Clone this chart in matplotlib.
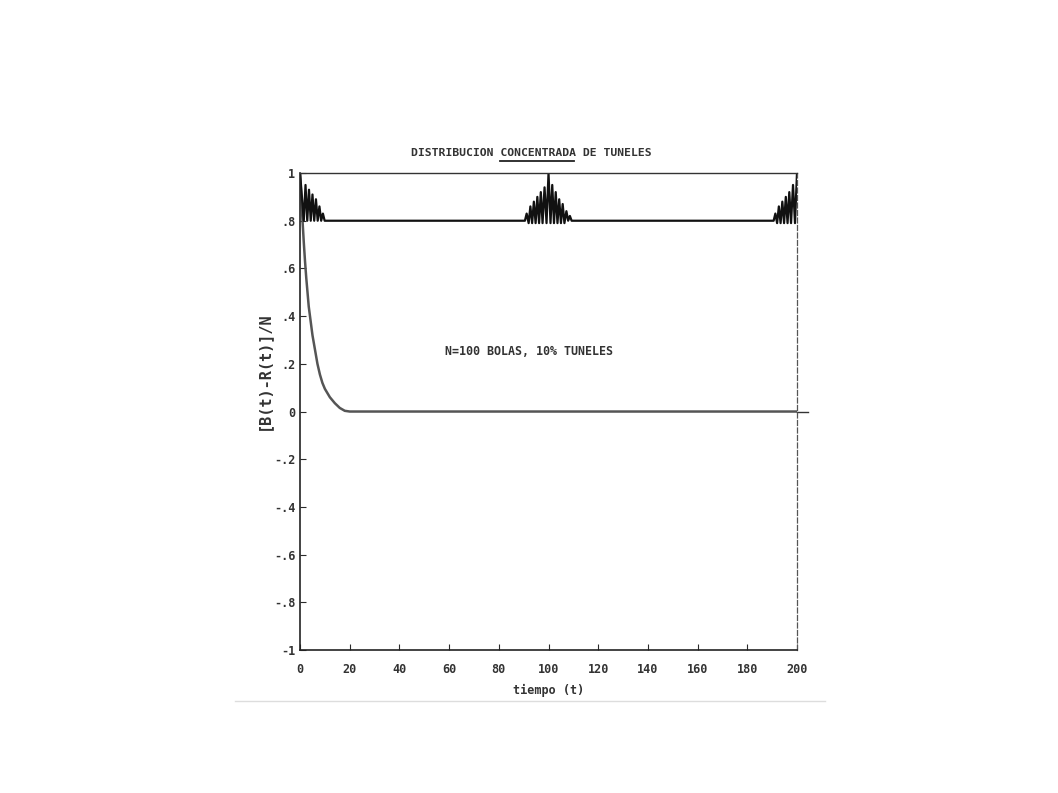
import matplotlib
matplotlib.use("Agg")
import matplotlib.pyplot as plt
from matplotlib.lines import Line2D

# oscillating series (black): time and value
osc_t = [0, 1.5, 2.2, 2.9, 3.6, 4.3, 5.0, 5.7, 6.4, 7.1, 7.8, 8.5, 9.2, 9.9,
         90.5, 91.2, 92.0, 92.7, 93.4, 94.1, 94.8, 95.5, 96.2, 96.9, 97.6, 98.4,
         99.2, 100.0, 100.8, 101.5, 102.2, 102.9, 103.6, 104.3, 105.0, 105.7,
         106.4, 107.2, 107.9, 108.6, 109.3,
         190.6, 191.3, 192.0, 192.7, 193.4, 194.1, 194.8, 195.5, 196.2, 196.9,
         197.6, 198.4, 199.2, 200.0]
osc_v = [1.0, 0.8, 0.95, 0.8, 0.93, 0.8, 0.91, 0.8, 0.89, 0.8, 0.86, 0.8, 0.83, 0.8,
         0.8, 0.83, 0.79, 0.86, 0.79, 0.88, 0.79, 0.9, 0.79, 0.92, 0.79, 0.94,
         0.79, 1.0, 0.79, 0.95, 0.79, 0.92, 0.79, 0.89, 0.79, 0.87,
         0.79, 0.84, 0.8, 0.82, 0.8,
         0.8, 0.83, 0.79, 0.86, 0.79, 0.88, 0.79, 0.9, 0.79, 0.92,
         0.79, 0.95, 0.79, 1.0]

# decaying series (gray)
dec_t = [0, 0.5, 1, 1.5, 2, 2.5, 3, 3.5, 4, 5, 6, 7, 8, 9, 10, 12, 14, 16, 18, 20, 200]
dec_v = [1.0, 0.9, 0.8, 0.71, 0.63, 0.56, 0.5, 0.44, 0.4, 0.32, 0.26, 0.2,
         0.155, 0.12, 0.095, 0.06, 0.035, 0.015, 0.003, 0.0, 0.0]

x_ticks = [0, 20, 40, 60, 80, 100, 120, 140, 160, 180, 200]
y_ticks = [1, 0.8, 0.6, 0.4, 0.2, 0, -0.2, -0.4, -0.6, -0.8, -1]
y_labels = ["1", ".8", ".6", ".4", ".2", "0", "-.2", "-.4", "-.6", "-.8", "-1"]

mono = "DejaVu Sans Mono"
ink = "#2a2a2a"

fig = plt.figure(figsize=(10.58, 7.93), dpi=100)
ax = fig.add_axes([0.2836, 0.1803, 0.4697, 0.6015])

ax.plot(dec_t, dec_v, color="#555555", lw=1.8, solid_joinstyle="round")
ax.plot(osc_t, osc_v, color="#111111", lw=1.6)
# zero line of the plotter runs a little past the frame
ax.axhline(0, xmin=1.0, xmax=1.022, color="#333333", lw=1.0, clip_on=False)

ax.set_xlim(0, 200)
ax.set_ylim(-1, 1)
ax.set_xticks(x_ticks)
ax.set_yticks(y_ticks)
ax.set_yticklabels(y_labels)
ax.tick_params(direction="in", length=4, width=0.8, colors=ink, labelsize=8.5)
ax.tick_params(axis="x", pad=9)
for lab in ax.get_xticklabels() + ax.get_yticklabels():
    lab.set_family(mono)
    lab.set_fontweight("bold")
    lab.set_color("#333333")

for side in ["left", "bottom"]:
    ax.spines[side].set_color("#222222")
    ax.spines[side].set_linewidth(1.2)
ax.spines["top"].set_color("#333333")
ax.spines["top"].set_linewidth(1.0)
ax.spines["right"].set_color("#555555")
ax.spines["right"].set_linestyle((0, (4, 2)))
ax.spines["right"].set_linewidth(0.9)

ax.set_xlabel("tiempo (t)", family=mono, fontsize=8.5, fontweight="bold",
              color="#333333", labelpad=6)

fig.text(0.249, 0.532, "[B(t)-R(t)]/N", rotation=90, ha="center", va="center",
         family=mono, fontsize=11, fontweight="bold", color="#333333")

fig.text(0.502, 0.807, "DISTRIBUCION CONCENTRADA DE TUNELES", ha="center",
         va="center", family=mono, fontsize=8.2, fontweight="bold", color="#333333")
fig.add_artist(Line2D([0.473, 0.543], [0.797, 0.797], color="#222222", lw=1.3))

ax.text(92, 0.25, "N=100 BOLAS, 10% TUNELES", ha="center", va="center",
        family=mono, fontsize=8.4, fontweight="bold", color="#333333")

# faint edge of the scanned page
fig.add_artist(Line2D([0.222, 0.78], [0.116, 0.116], color="#dddddd", lw=1.0))

fig.savefig("out.png", dpi=100)
